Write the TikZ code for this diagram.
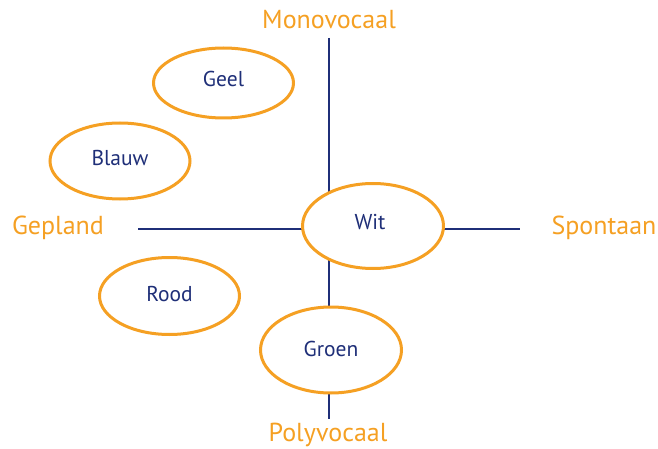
\documentclass[tikz,border=0pt]{standalone}
\usepackage{fontspec}
\setmainfont{PT Sans}
\usetikzlibrary{shapes.geometric}
\definecolor{axisorange}{HTML}{F5A023}
\definecolor{navy}{HTML}{1F2F78}
\tikzset{
  axislabel/.style={text=axisorange, font=\fontsize{26}{29}\selectfont, inner sep=0pt},
  axisline/.style={draw=navy, line width=2.7pt},
  colour/.style={ellipse, draw=axisorange, line width=3pt, fill=white, text=navy,
    font=\fontsize{21.5}{24}\selectfont, inner sep=0pt},
}
\begin{document}
\begin{tikzpicture}[x=1pt,y=-1pt]
\useasboundingbox (0,0) rectangle (658,449);
% axis end points
\coordinate (top) at (329,38);
\coordinate (bottom) at (329,419);
\coordinate (left) at (138,229);
\coordinate (right) at (520,229);
\draw[axisline] (top) -- (bottom);
\draw[axisline] (left) -- (right);
% labels
\node[axislabel] (mono) at (329,20) {Monovocaal};
\node[axislabel] (poly) at (328,435) {Polyvocaal};
\node[axislabel] (gepland) at (58,228) {Gepland};
\node[axislabel] (spontaan) at (604,228) {Spontaan};
% ellipses
\node[colour, minimum width=140pt, minimum height=70pt] (geel) at (223.5,83) {};
\node at ([yshift=4pt]geel.center) [text=navy, font=\fontsize{21.5}{24}\selectfont] (geeltext) {Geel};
\node[colour, minimum width=140pt, minimum height=76pt] (blauw) at (120,161) {};
\node at ([yshift=3pt]blauw.center) [text=navy, font=\fontsize{21.5}{24}\selectfont] (blauwtext) {Blauw};
\node[colour, minimum width=141pt, minimum height=85pt] (wit) at (373,226) {};
\node at ([xshift=-3pt,yshift=4pt]wit.center) [text=navy, font=\fontsize{21.5}{24}\selectfont] (wittext) {Wit};
\node[colour, minimum width=140pt, minimum height=77pt] (rood) at (169.5,296) {};
\node at ([yshift=2pt]rood.center) [text=navy, font=\fontsize{21.5}{24}\selectfont] (roodtext) {Rood};
\node[colour, minimum width=141pt, minimum height=86pt] (groen) at (331,350) {};
\node at ([yshift=1pt]groen.center) [text=navy, font=\fontsize{21.5}{24}\selectfont] (groentext) {Groen};
\end{tikzpicture}
\end{document}
